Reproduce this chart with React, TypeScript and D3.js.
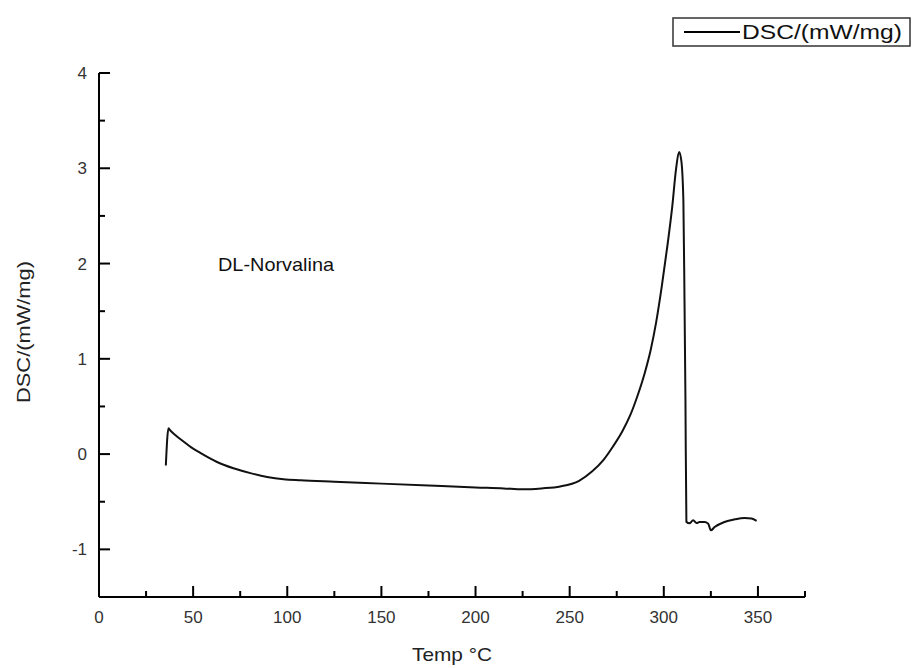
import { useEffect, useRef } from 'react';
import * as d3 from 'd3';

// DSC curve: temperature (°C) and heat flow (mW/mg)
const temps = [35.5, 36.9, 38, 40.5, 44.7, 49, 53.8, 62.7, 71.4, 80.4, 89.3, 98, 107, 125, 150, 175, 200, 215, 225, 235, 245, 255, 262, 268, 273, 278, 282, 286, 290, 293, 296, 299, 302, 304.5, 306.5, 308.1, 309.3, 310.4, 311, 311.5, 312, 313.6, 315.6, 317.4, 319, 321.6, 323.6, 325, 327, 332.2, 337.6, 342.9, 346.6, 349.3];
const dsc = [-0.12, 0.27, 0.245, 0.2, 0.135, 0.07, 0.012, -0.083, -0.149, -0.2, -0.24, -0.264, -0.275, -0.29, -0.31, -0.33, -0.35, -0.36, -0.37, -0.36, -0.34, -0.28, -0.18, -0.06, 0.08, 0.24, 0.4, 0.61, 0.86, 1.09, 1.39, 1.77, 2.2, 2.6, 2.99, 3.17, 3.08, 2.66, 1.61, 0.57, -0.71, -0.727, -0.695, -0.724, -0.713, -0.713, -0.73, -0.8, -0.766, -0.713, -0.685, -0.67, -0.677, -0.7];

const xMajor = [0, 50, 100, 150, 200, 250, 300, 350];
const xMinor = [25, 75, 125, 175, 225, 275, 325, 375];
const yMajor = [-1, 0, 1, 2, 3, 4];
const yMinor = [-1.5, -0.5, 0.5, 1.5, 2.5, 3.5];

export default function App() {
  const svgRef = useRef<SVGSVGElement>(null);

  useEffect(() => {
    if (!svgRef.current) return;
    const svg = d3.select(svgRef.current);
    svg.selectAll('*').remove();

    const font = 'Liberation Sans, Arial, sans-serif';
    const x = d3.scaleLinear().domain([0, 375]).range([99, 805]);
    const y = d3.scaleLinear().domain([-1.5, 4]).range([597, 73]);

    const g = svg.append('g');

    // axes lines
    g.append('line').attr('x1', x(0)).attr('x2', x(375)).attr('y1', y(-1.5)).attr('y2', y(-1.5))
      .attr('stroke', '#000').attr('stroke-width', 2);
    g.append('line').attr('x1', x(0)).attr('x2', x(0)).attr('y1', y(-1.5)).attr('y2', y(4))
      .attr('stroke', '#000').attr('stroke-width', 2);

    // x ticks (inward)
    g.selectAll('.xmaj').data(xMajor).join('line')
      .attr('x1', d => x(d)).attr('x2', d => x(d)).attr('y1', y(-1.5)).attr('y2', y(-1.5) - 11)
      .attr('stroke', '#000').attr('stroke-width', 2);
    g.selectAll('.xmin').data(xMinor).join('line')
      .attr('x1', d => x(d)).attr('x2', d => x(d)).attr('y1', y(-1.5)).attr('y2', y(-1.5) - 6)
      .attr('stroke', '#000').attr('stroke-width', 2);
    g.selectAll('.xlab').data(xMajor).join('text')
      .attr('x', d => x(d)).attr('y', 623).attr('text-anchor', 'middle')
      .style('font-family', font).style('font-size', '17px').style('fill', '#333')
      .text(d => d);

    // y ticks (inward)
    g.selectAll('.ymaj').data(yMajor).join('line')
      .attr('x1', x(0)).attr('x2', x(0) + 11).attr('y1', d => y(d)).attr('y2', d => y(d))
      .attr('stroke', '#000').attr('stroke-width', 2);
    g.selectAll('.ymin').data(yMinor).join('line')
      .attr('x1', x(0)).attr('x2', x(0) + 6).attr('y1', d => y(d)).attr('y2', d => y(d))
      .attr('stroke', '#000').attr('stroke-width', 2);
    g.selectAll('.ylab').data(yMajor).join('text')
      .attr('x', 87).attr('y', d => y(d) + 6).attr('text-anchor', 'end')
      .style('font-family', font).style('font-size', '17px').style('fill', '#333')
      .text(d => d);

    // axis titles
    g.append('text').attr('x', 452).attr('y', 661).attr('text-anchor', 'middle')
      .attr('textLength', 80).attr('lengthAdjust', 'spacingAndGlyphs')
      .style('font-family', font).style('font-size', '19px').style('fill', '#222')
      .text('Temp °C');
    g.append('text').attr('transform', 'translate(30,332) rotate(-90)').attr('text-anchor', 'middle')
      .attr('textLength', 142).attr('lengthAdjust', 'spacingAndGlyphs')
      .style('font-family', font).style('font-size', '19px').style('fill', '#222')
      .text('DSC/(mW/mg)');

    // curve
    const pts = temps.map((t, i) => [t, dsc[i]] as [number, number]);
    const line = d3.line<[number, number]>().x(d => x(d[0])).y(d => y(d[1])).curve(d3.curveMonotoneX);
    g.append('path').attr('d', line(pts)).attr('fill', 'none').attr('stroke', '#111').attr('stroke-width', 2);

    // annotation
    g.append('text').attr('x', 218).attr('y', 271)
      .attr('textLength', 116).attr('lengthAdjust', 'spacingAndGlyphs')
      .style('font-family', font).style('font-size', '19px').style('fill', '#111')
      .text('DL-Norvalina');

    // legend
    const lg = svg.append('g');
    lg.append('rect').attr('x', 673).attr('y', 18).attr('width', 237).attr('height', 28)
      .attr('fill', '#fff').attr('stroke', '#333').attr('stroke-width', 1.5);
    lg.append('line').attr('x1', 684).attr('x2', 740).attr('y1', 32).attr('y2', 32)
      .attr('stroke', '#000').attr('stroke-width', 2);
    lg.append('text').attr('x', 742).attr('y', 39)
      .attr('textLength', 160).attr('lengthAdjust', 'spacingAndGlyphs')
      .style('font-family', font).style('font-size', '20px').style('fill', '#111')
      .text('DSC/(mW/mg)');
  }, []);

  return (
    <svg ref={svgRef} width={916} height={668}
      style={{ position: 'absolute', left: 0, top: 0, background: '#fff' }} />
  );
}
